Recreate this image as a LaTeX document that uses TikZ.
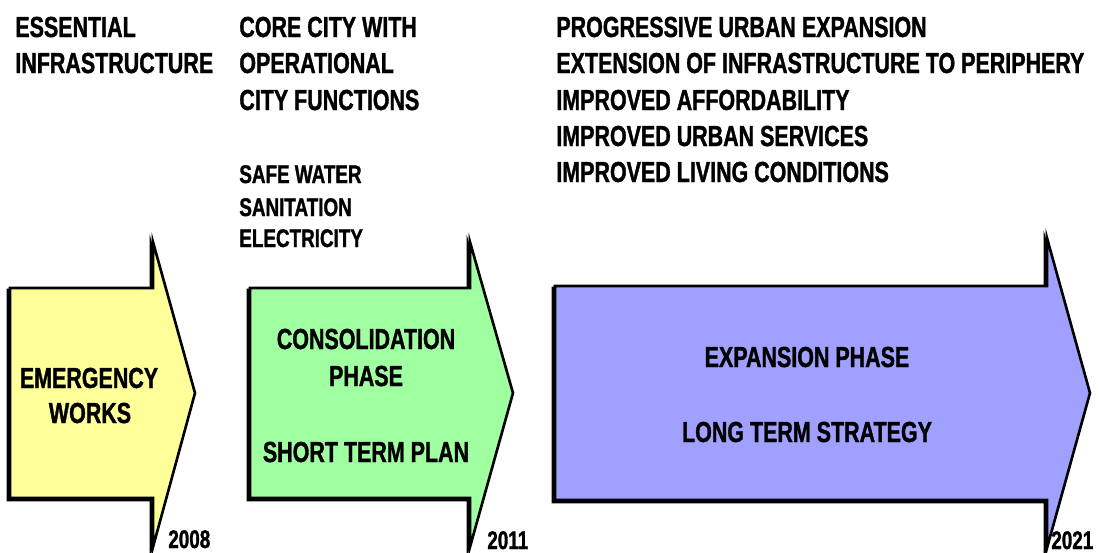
\documentclass[tikz,border=0pt]{standalone}
\usepackage{fontspec}
\setmainfont{Liberation Sans}[FakeStretch=0.74, FakeBold=1.2]
\usepackage{tikz}
\usetikzlibrary{positioning}

\definecolor{emergfill}{RGB}{255,255,153}
\definecolor{consfill}{RGB}{160,255,160}
\definecolor{expfill}{RGB}{160,160,255}

\tikzset{
    txt/.style={anchor=base west, inner sep=0pt, font=\fontsize{16.5}{20}\selectfont\bfseries},
    smalltxt/.style={txt, font=\fontsize{14.5}{18}\selectfont\bfseries},
    intxt/.style={anchor=base, inner sep=0pt, font=\fontsize{16.5}{20}\selectfont\bfseries},
    yeartxt/.style={anchor=base west, inner sep=0pt, font=\fontsize{14.5}{16}\selectfont\bfseries},
    phase/.style={draw=black, line width=1.5pt, line join=miter},
    shade/.style={fill=black, draw=black, line width=1.5pt, line join=miter}
}

\begin{document}
\begin{tikzpicture}[x=0.02cm, y=-0.02cm]
    \useasboundingbox (0,0) rectangle (1100,552);

    % arrows
    \draw[shade, shift={(-2,2)}] (10,288)--(153,288)--(153,242)--(195,393)--(153,547)--(153,498)--(10,498)--cycle;
    \draw[phase, fill=emergfill] (10,288)--(153,288)--(153,242)--(195,393)--(153,547)--(153,498)--(10,498)--cycle;

    \draw[shade, shift={(-2,2)}] (250,288)--(470,288)--(470,242)--(513,393)--(470,547)--(470,498)--(250,498)--cycle;
    \draw[phase, fill=consfill] (250,288)--(470,288)--(470,242)--(513,393)--(470,547)--(470,498)--(250,498)--cycle;

    \draw[shade, shift={(-2,2)}] (555,286)--(1047,286)--(1047,238)--(1090,393)--(1047,548)--(1047,500)--(555,500)--cycle;
    \draw[phase, fill=expfill] (555,286)--(1047,286)--(1047,238)--(1090,393)--(1047,548)--(1047,500)--(555,500)--cycle;

    % text inside the arrows
    \node[intxt] (emerg) at (89,388) {EMERGENCY};
    \node[intxt] (works) at (90,423) {WORKS};
    \node[intxt] (cons) at (366,349) {CONSOLIDATION};
    \node[intxt] (consph) at (366,386) {PHASE};
    \node[intxt] (short) at (366,462) {SHORT TERM PLAN};
    \node[intxt] (expph) at (807,367) {EXPANSION PHASE};
    \node[intxt] (long) at (807,442) {LONG TERM STRATEGY};

    % years
    \node[yeartxt] (y08) at (168,548) {2008};
    \node[yeartxt] (y11) at (487,549) {2011};
    \node[yeartxt] (y21) at (1051,549) {2021};

    % headings
    \node[txt] (ess) at (15,37) {ESSENTIAL};
    \node[txt] (infra) at (15,73) {INFRASTRUCTURE};

    \node[txt] (core) at (239,37) {CORE CITY WITH};
    \node[txt] (oper) at (239,73) {OPERATIONAL};
    \node[txt] (func) at (239,110) {CITY FUNCTIONS};
    \node[smalltxt] (water) at (239,183) {SAFE WATER};
    \node[smalltxt] (sanit) at (239,216) {SANITATION};
    \node[smalltxt] (elec) at (239,247) {ELECTRICITY};

    \node[txt] (prog) at (556,37) {PROGRESSIVE URBAN EXPANSION};
    \node[txt] (ext) at (556,73) {EXTENSION OF INFRASTRUCTURE TO PERIPHERY};
    \node[txt] (afford) at (556,110) {IMPROVED AFFORDABILITY};
    \node[txt] (serv) at (556,146) {IMPROVED URBAN SERVICES};
    \node[txt] (living) at (556,182) {IMPROVED LIVING CONDITIONS};
\end{tikzpicture}
\end{document}
